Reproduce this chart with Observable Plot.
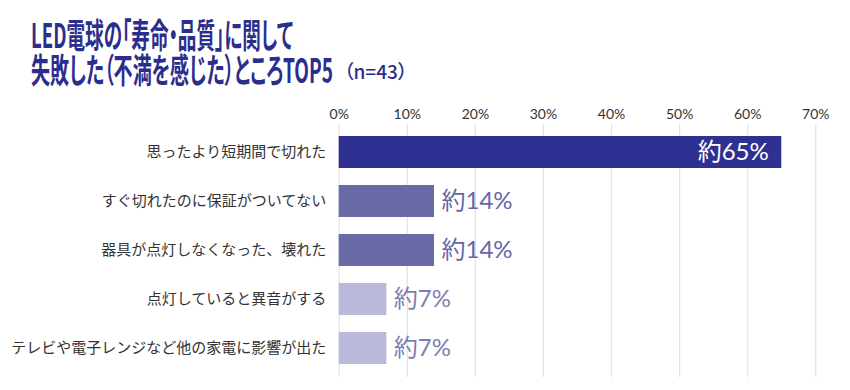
<!DOCTYPE html>
<html><head><meta charset="utf-8">
<script src="https://cdn.jsdelivr.net/npm/d3@7"></script>
<script src="https://cdn.jsdelivr.net/npm/@observablehq/plot@0.6"></script>
<style>
body{margin:0;background:#fff;width:850px;height:390px;overflow:hidden;font-family:"Noto Sans CJK JP",sans-serif}
#title{position:absolute;left:31px;top:16px;width:500px;height:72px;color:#2b2e8c;font-weight:700;font-size:34px;line-height:35px;font-feature-settings:"palt";}
#title .ln{position:absolute;left:0;transform-origin:0 0;white-space:nowrap;display:block;width:max-content}
#l1{top:0}
#l2{top:35px}
#title .n{position:absolute;left:313px;top:44px;font-size:19px;font-weight:500;line-height:22px;white-space:nowrap}
#chart{position:absolute;left:0;top:95px}
</style></head>
<body>
<div id="title">
  <span class="ln" id="l1">LED電球の「寿命・品質」に関して</span>
  <span class="ln" id="l2">失敗した（不満を感じた）ところTOP5</span>
  <span class="n">（n=43）</span>
</div>
<div id="chart"></div>
<script>
const categories = [
  "思ったより短期間で切れた",
  "すぐ切れたのに保証がついてない",
  "器具が点灯しなくなった、壊れた",
  "点灯していると異音がする",
  "テレビや電子レンジなど他の家電に影響が出た"
];
const values = [65, 14, 14, 7, 7];
const valueLabels = ["約65%", "約14%", "約14%", "約7%", "約7%"];
const xTicks = [0, 10, 20, 30, 40, 50, 60, 70];

const data = categories.map((c, i) => ({category: c, value: values[i], label: valueLabels[i]}));
const barColors = ["#2e3192", "#6a6aa8", "#6a6aa8", "#b9badb", "#b9badb"];
const labelColors = ["#ffffff", "#6667a3", "#6667a3", "#7d7eb0", "#7d7eb0"];

// condense title lines to match reference widths
const l1 = document.getElementById("l1");
const l2 = document.getElementById("l2");
const s1 = 262 / l1.getBoundingClientRect().width;
const s2 = 302 / l2.getBoundingClientRect().width;
l1.style.transform = `scaleX(${s1})`;
l2.style.transform = `scaleX(${s2})`;

const valueFont = "Lato, 'Noto Sans CJK JP', sans-serif";
const chart = Plot.plot({
  width: 850,
  height: 290,
  marginLeft: 338.7,
  marginRight: 34.7,
  marginTop: 29,
  marginBottom: 8,
  style: {fontFamily: "'Noto Sans CJK JP', sans-serif", background: "#fff"},
  x: {domain: [0, 70], label: null},
  y: {domain: categories, paddingInner: 0.34, paddingOuter: 0.2, label: null},
  color: {type: "ordinal", domain: categories, range: barColors},
  marks: [
    Plot.gridX(xTicks, {stroke: "#e2e2e2", strokeOpacity: 1, strokeWidth: 1.2}),
    Plot.axisX(xTicks, {anchor: "top", tickSize: 0, tickPadding: 6, tickFormat: d => d + "%", fontSize: 14, fill: "#333", fontFamily: "Lato, 'Noto Sans', sans-serif", label: null}),
    Plot.axisY({tickSize: 0, tickPadding: 13, fontSize: 15, fill: "#333", label: null}),
    Plot.barX(data, {x: "value", y: "category", fill: "category"}),
    Plot.text(data.filter(d => d.value > 30), {x: "value", y: "category", text: "label", textAnchor: "end", dx: -13, fill: (d) => labelColors[categories.indexOf(d.category)], fontSize: 24, fontFamily: valueFont}),
    Plot.text(data.filter(d => d.value <= 30), {x: "value", y: "category", text: "label", textAnchor: "start", dx: 7, fill: (d) => labelColors[categories.indexOf(d.category)], fontSize: 24, fontFamily: valueFont})
  ]
});
document.getElementById("chart").append(chart);
</script>
</body></html>
